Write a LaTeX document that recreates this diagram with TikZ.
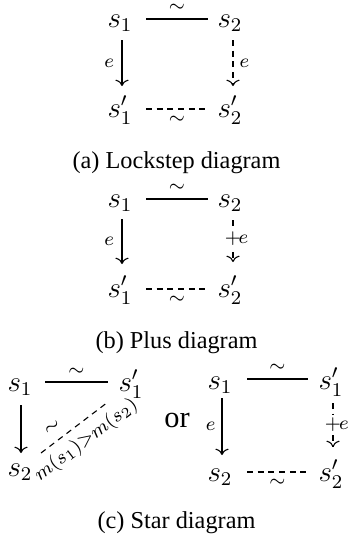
\documentclass[tikz,border=0pt]{standalone}
\usepackage[no-math]{fontspec}
\setmainfont{Liberation Serif}
\usetikzlibrary{arrows.meta,calc}
\tikzset{
  obj/.style={anchor=base, inner sep=0pt, font=\fontsize{12}{14}\selectfont},
  lbl/.style={inner sep=0pt, font=\fontsize{12}{14}\selectfont},
  arr/.style={-{Computer Modern Rightarrow}},
  dsh/.style={dash pattern=on 2.4pt off 2pt},
  plusbox/.style={inner sep=1.2pt, fill=white, font=\fontsize{12}{14}\selectfont},
  capt/.style={anchor=base, inner sep=0pt, font=\fontsize{10}{12}\selectfont},
}
\begin{document}
\begin{tikzpicture}[x=0.4115pt,y=-0.4115pt,line width=0.45pt]
\useasboundingbox (0,0) rectangle (350,540);
% ---------- (a) Lockstep
\node[obj] (a1) at (120,27) {$s_1$};
\node[obj] (a2) at (230,27) {$s_2$};
\node[obj] (a3) at (120,117) {$s_1'$};
\node[obj] (a4) at (230,117) {$s_2'$};
\draw ($(a1.base)+(26,-8)$) -- node[lbl,yshift=4.4pt] (at) {$\scriptstyle\sim$} ($(a2.base)+(-22,-8)$);
\draw[dsh] ($(a3.base)+(26,-8)$) -- node[lbl,yshift=-4.4pt] (ab) {$\scriptstyle\sim$} ($(a4.base)+(-22,-8)$);
\draw[arr] ($(a1.base)+(2,13)$) -- node[lbl,xshift=-5.3pt] (ael) {$\scriptstyle e$} ($(a3.base)+(2,-31)$);
\draw[arr,dsh] ($(a2.base)+(3,13)$) -- node[lbl,xshift=4.7pt] (aer) {$\scriptstyle e$} ($(a4.base)+(3,-31)$);
\node[capt] (capa) at (176.5,168) {(a) Lockstep diagram};
% ---------- (b) Plus
\node[obj] (b1) at (120,207) {$s_1$};
\node[obj] (b2) at (230,207) {$s_2$};
\node[obj] (b3) at (120,297) {$s_1'$};
\node[obj] (b4) at (230,297) {$s_2'$};
\draw ($(b1.base)+(26,-8)$) -- node[lbl,yshift=4.4pt] (bt) {$\scriptstyle\sim$} ($(b2.base)+(-22,-8)$);
\draw[dsh] ($(b3.base)+(26,-8)$) -- node[lbl,yshift=-4.4pt] (bb) {$\scriptstyle\sim$} ($(b4.base)+(-22,-8)$);
\draw[arr] ($(b1.base)+(2,12)$) -- node[lbl,xshift=-5.3pt] (bel) {$\scriptstyle e$} ($(b3.base)+(2,-33)$);
\draw[arr,dsh] ($(b2.base)+(3,13)$) -- node[plusbox,pos=0.45] (bp) {$\scriptstyle +$}
  node[lbl,pos=0.45,xshift=4.3pt] (ber) {$\scriptstyle e$} ($(b4.base)+(3,-35)$);
\node[capt] (capb) at (176.5,348) {(b) Plus diagram};
% ---------- (c) Star, left
\node[obj] (c1) at (20,391) {$s_1$};
\node[obj] (c2) at (131,391) {$s_1'$};
\node[obj] (c3) at (20,476) {$s_2$};
\draw ($(c1.base)+(25,-9)$) -- node[lbl,yshift=4.1pt] (ct) {$\scriptstyle\sim$} ($(c2.base)+(-23,-9)$);
\draw[arr] ($(c1.base)+(1,14)$) -- ($(c3.base)+(1,-23)$);
\draw[dsh] ($(c3.base)+(21,-23)$) --
  node[lbl,sloped,pos=0.29,above=3.6pt] (cd) {$\scriptstyle\sim$}
  node[lbl,sloped,pos=0.52,below=2.8pt] (cm) {$\scriptstyle m(s_1)>m(s_2)$}
  ($(c2.base)+(-23,11)$);
\node[anchor=base,inner sep=0pt,font=\fontsize{12.5}{14}\selectfont] (or) at (177,427) {or};
% ---------- (c) Star, right
\node[obj] (d1) at (220,389) {$s_1$};
\node[obj] (d2) at (331,389) {$s_1'$};
\node[obj] (d3) at (220,481) {$s_2$};
\node[obj] (d4) at (331,481) {$s_2'$};
\draw ($(d1.base)+(27,-10)$) -- node[lbl,yshift=4.4pt] (dt) {$\scriptstyle\sim$} ($(d2.base)+(-23,-10)$);
\draw[dsh] ($(d3.base)+(27,-9)$) -- node[lbl,yshift=-4.4pt] (db) {$\scriptstyle\sim$} ($(d4.base)+(-23,-9)$);
\draw[arr] ($(d1.base)+(2,9)$) -- node[lbl,xshift=-4.7pt] (del) {$\scriptstyle e$} ($(d3.base)+(2,-26)$);
\draw[arr,dsh] ($(d2.base)+(2,14)$) -- node[plusbox,pos=0.5] (dp) {$\scriptstyle +$}
  node[lbl,pos=0.5,xshift=4.5pt] (der) {$\scriptstyle e$} ($(d4.base)+(2,-34)$);
\node[capt] (capc) at (176.5,528) {(c) Star diagram};
\end{tikzpicture}
\end{document}
